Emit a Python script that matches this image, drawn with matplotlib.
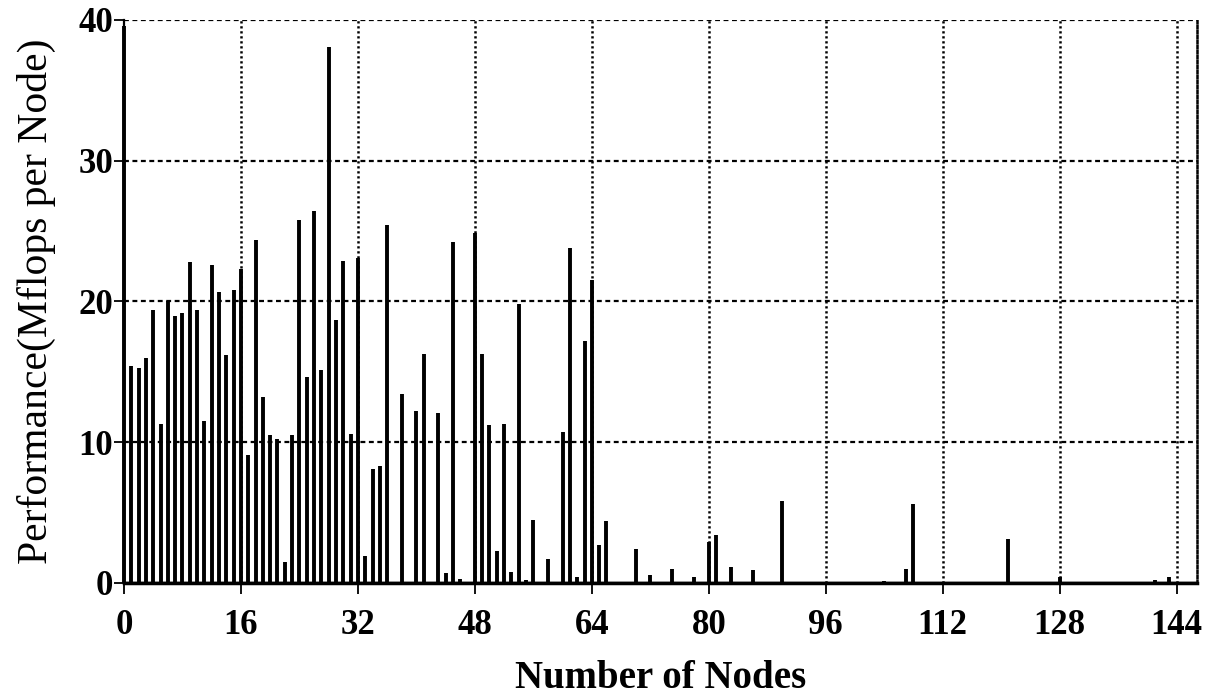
import matplotlib
matplotlib.use("Agg")
import matplotlib.pyplot as plt

# performance per node
nodes = list(range(0, 37)) + [38, 40, 41, 43, 44, 45, 46, 48, 49, 50, 51, 52, 53, 54,
                              55, 56, 58, 60, 61, 62, 63, 64, 65, 66, 70, 72, 75, 78,
                              80, 81, 83, 86, 90, 104, 107, 108, 121, 128, 141, 143]
mflops = [39.6, 15.4, 15.3, 16.0, 19.4, 11.3, 20.0, 19.0, 19.2, 22.8,
          19.4, 11.5, 22.6, 20.7, 16.2, 20.8, 22.3, 9.1, 24.4, 13.2,
          10.5, 10.2, 1.5, 10.5, 25.8, 14.6, 26.4, 15.1, 38.1, 18.7,
          22.9, 10.6, 23.1, 1.9, 8.1, 8.3, 25.4,
          13.4, 12.2, 16.3, 12.1, 0.7, 24.2, 0.3, 24.9, 16.3, 11.2, 2.25, 11.3, 0.8,
          19.8, 0.2, 4.5, 1.7, 10.75, 23.8, 0.4, 17.2, 21.5, 2.7, 4.4, 2.4, 0.6, 1.0, 0.4,
          2.9, 3.4, 1.1, 0.95, 5.8, 0.15, 1.0, 5.6, 3.1, 0.4, 0.2, 0.45]

xticks = [0, 16, 32, 48, 64, 80, 96, 112, 128, 144]
yticks = [0, 10, 20, 30, 40]

plt.rcParams['font.family'] = ['Liberation Serif', 'DejaVu Serif']

fig = plt.figure(figsize=(12.05, 6.96), dpi=100)
ax = fig.add_axes([0.1029, 0.1624, 0.8905, 0.8089])

ax.vlines(nodes, 0, mflops, colors='black', linewidth=2.8, clip_on=False, zorder=3)
ax.axhline(0, color='black', linewidth=2.5, zorder=4)

ax.set_xlim(0, 146.8)
ax.set_ylim(0, 40)

for y in yticks[1:]:
    ax.axhline(y, color='black', linewidth=1.6, linestyle=(0, (2.2, 1.6)), zorder=1)
for x in xticks[1:]:
    ax.axvline(x, color='black', linewidth=1.8, linestyle=(0, (0.9, 1.1)), zorder=1)

ax.spines['top'].set_visible(False)
ax.spines['right'].set_linestyle((0, (0.9, 1.1)))
ax.spines['right'].set_linewidth(1.8)
ax.spines['left'].set_linewidth(1.6)
ax.spines['bottom'].set_linewidth(2.5)

ax.set_xticks(xticks)
ax.set_yticks(yticks)
ax.tick_params(axis='x', direction='out', length=8, width=1.3, pad=11, labelsize=25)
ax.tick_params(axis='y', direction='out', length=7, width=1.3, pad=1, labelsize=25)
for lab in ax.get_xticklabels() + ax.get_yticklabels():
    lab.set_fontweight('bold')

ax.set_xlabel('Number of Nodes', fontsize=28, fontweight='bold', labelpad=13)
ax.set_ylabel('Performance(Mflops per Node)', fontsize=30, labelpad=16)

fig.savefig('out.png', dpi=100)
